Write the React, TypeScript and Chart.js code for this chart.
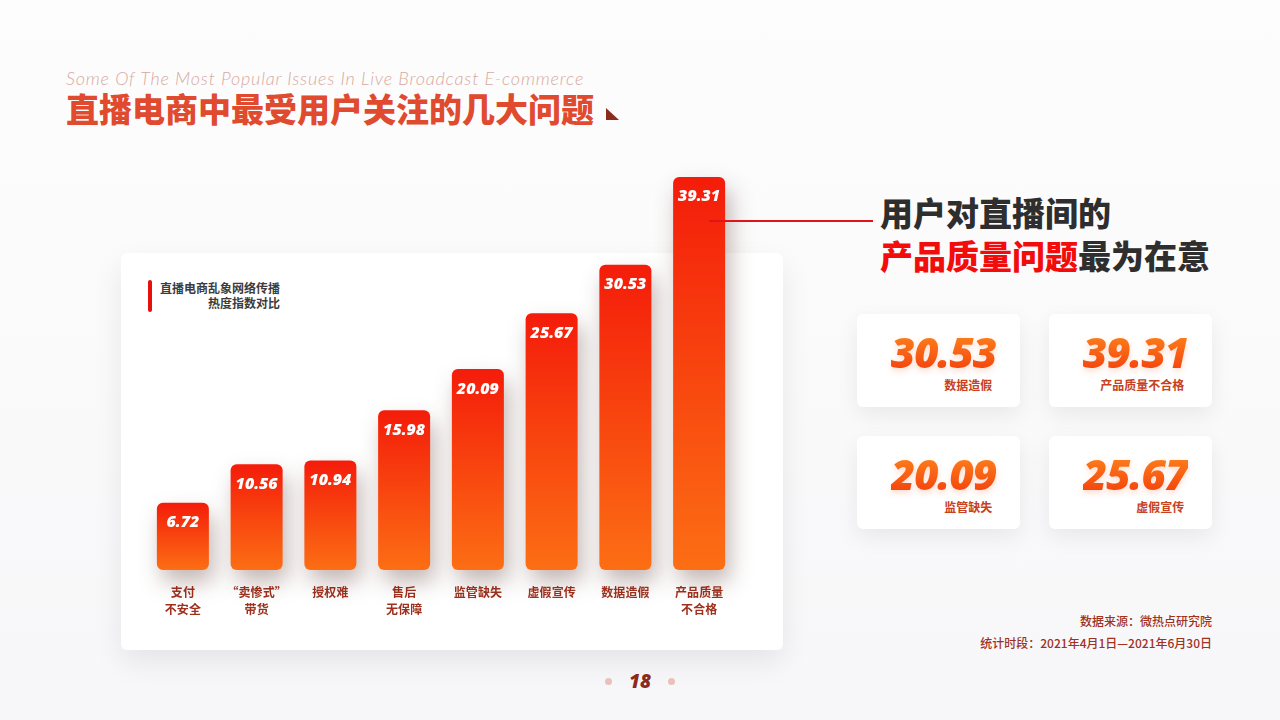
import React, { useEffect, useRef } from "react";
import { Chart, registerables } from "chart.js";

Chart.register(...registerables);

// ---- data ----
const categories: string[][] = [
  ["支付", "不安全"],
  ["“卖惨式”", "带货"],
  ["授权难"],
  ["售后", "无保障"],
  ["监管缺失"],
  ["虚假宣传"],
  ["数据造假"],
  ["产品质量", "不合格"],
];
const heatIndex: number[] = [6.72, 10.56, 10.94, 15.98, 20.09, 25.67, 30.53, 39.31];
const yMin = 0;
const yMax = 40;
const highlightValues: string[] = ["30.53", "39.31", "20.09", "25.67"];
const highlightLabels: string[] = ["数据造假", "产品质量不合格", "监管缺失", "虚假宣传"];
const legendLines: string[] = ["直播电商乱象网络传播", "热度指数对比"];
const sourceLines: string[] = ["数据来源：微热点研究院", "统计时段：2021年4月1日—2021年6月30日"];

const CJK = '"Noto Sans CJK SC", "Noto Sans", sans-serif';
const LATIN = '"Open Sans", "Noto Sans", sans-serif';

const shadowPlugin = {
  id: "barShadow",
  beforeDatasetDraw(chart: any) {
    const c = chart.ctx;
    c.save();
    c.shadowColor = "rgba(70,30,20,0.32)";
    c.shadowBlur = 22;
    c.shadowOffsetX = 5;
    c.shadowOffsetY = 12;
  },
  afterDatasetDraw(chart: any) {
    chart.ctx.restore();
  },
};

const valueLabelPlugin = {
  id: "valueLabels",
  afterDatasetsDraw(chart: any) {
    const c = chart.ctx;
    const meta = chart.getDatasetMeta(0);
    c.save();
    c.fillStyle = "#ffffff";
    c.font = `italic 800 16px ${LATIN}`;
    c.textAlign = "center";
    c.textBaseline = "middle";
    meta.data.forEach((el: any, i: number) => {
      const v = chart.data.datasets[0].data[i] as number;
      c.fillText(v.toFixed(2), el.x, el.y + 20);
    });
    c.restore();
  },
};

function BarChart() {
  const ref = useRef<HTMLCanvasElement | null>(null);
  useEffect(() => {
    if (!ref.current) return;
    const chart = new Chart(ref.current, {
      type: "bar",
      data: {
        labels: categories,
        datasets: [
          {
            data: heatIndex,
            backgroundColor: (ctx: any) => {
              const chart = ctx.chart;
              const { chartArea, scales } = chart;
              if (!chartArea || ctx.type !== "data") return "#f5400e";
              const top = scales.y.getPixelForValue(ctx.raw as number);
              const bottom = scales.y.getPixelForValue(0);
              const g = chart.ctx.createLinearGradient(0, top, 0, bottom);
              g.addColorStop(0, "#f41c0a");
              g.addColorStop(1, "#fc6e14");
              return g;
            },
            borderRadius: 6,
            borderSkipped: false,
            barPercentage: 0.705,
            categoryPercentage: 1,
            clip: false as any,
          },
        ],
      },
      options: {
        animation: false,
        responsive: true,
        maintainAspectRatio: false,
        layout: { padding: { left: 46, right: 64, top: 20, bottom: 8 } },
        plugins: { legend: { display: false }, tooltip: { enabled: false } },
        scales: {
          x: {
            grid: { display: false, drawTicks: false },
            border: { display: false },
            ticks: {
              color: "#9e301d",
              font: { family: CJK, size: 12, weight: "bold", lineHeight: 1.42 },
              padding: 14,
              maxRotation: 0,
              autoSkip: false,
            },
          },
          y: { display: false, min: yMin, max: yMax },
        },
      },
      plugins: [shadowPlugin, valueLabelPlugin],
    });
    return () => chart.destroy();
  }, []);
  return (
    <div style={{ position: "absolute", left: 100, top: 150, width: 700, height: 490 }}>
      <canvas ref={ref} />
    </div>
  );
}

const cardPos = [
  { left: 857, top: 314 },
  { left: 1049, top: 314 },
  { left: 857, top: 436 },
  { left: 1049, top: 436 },
];

export default function App() {
  return (
    <div
      style={{
        position: "fixed",
        left: 0,
        top: 0,
        width: 1280,
        height: 720,
        overflow: "hidden",
        background: "linear-gradient(180deg, #fdfdfd 0%, #f7f7f9 100%)",
        fontFamily: CJK,
      }}
    >
      {/* Titles */}
      <div
        style={{
          position: "absolute",
          left: 66,
          top: 68,
          fontFamily: '"Lato", "Open Sans", sans-serif',
          fontStyle: "italic",
          fontWeight: 300,
          fontSize: 18,
          letterSpacing: 0.8,
          lineHeight: "21px",
          color: "#d8aaa2",
          whiteSpace: "nowrap",
        }}
      >
        Some Of The Most Popular Issues In Live Broadcast E-commerce
      </div>
      <div
        style={{
          position: "absolute",
          left: 66,
          top: 90,
          fontSize: 33,
          fontWeight: 900,
          lineHeight: "36px",
          color: "#e04a2e",
          whiteSpace: "nowrap",
        }}
      >
        直播电商中最受用户关注的几大问题
      </div>
      <div
        style={{
          position: "absolute",
          left: 606,
          top: 108,
          width: 0,
          height: 0,
          borderRight: "13px solid transparent",
          borderBottom: "12px solid #8a2b1c",
        }}
      />

      {/* Chart card */}
      <div
        style={{
          position: "absolute",
          left: 121,
          top: 253,
          width: 662,
          height: 397,
          background: "#ffffff",
          borderRadius: 6,
          boxShadow: "0 12px 30px rgba(0,0,0,0.08)",
        }}
      />
      <div
        style={{
          position: "absolute",
          left: 148,
          top: 280,
          width: 4,
          height: 32,
          borderRadius: 2,
          background: "#e8100c",
        }}
      />
      <div
        style={{
          position: "absolute",
          left: 150,
          top: 280,
          width: 130,
          textAlign: "right",
          fontSize: 12,
          fontWeight: 700,
          lineHeight: "15px",
          color: "#3c3c3c",
        }}
      >
        {legendLines.map((l, i) => (
          <div key={i}>{l}</div>
        ))}
      </div>

      <BarChart />

      {/* connector line */}
      <div
        style={{
          position: "absolute",
          left: 709,
          top: 220,
          width: 164,
          height: 2,
          background: "#e0141a",
        }}
      />

      {/* Right headline */}
      <div
        style={{
          position: "absolute",
          left: 880,
          top: 191,
          fontSize: 33,
          fontWeight: 900,
          lineHeight: "43px",
          color: "#2e2e2e",
          whiteSpace: "nowrap",
        }}
      >
        <div>用户对直播间的</div>
        <div>
          <span style={{ color: "#f20c0c" }}>产品质量问题</span>最为在意
        </div>
      </div>

      {/* Highlight cards */}
      {cardPos.map((p, i) => (
        <div
          key={i}
          style={{
            position: "absolute",
            left: p.left,
            top: p.top,
            width: 163,
            height: 93,
            background: "#ffffff",
            borderRadius: 6,
            boxShadow: "0 8px 22px rgba(0,0,0,0.07)",
            display: "flex",
            justifyContent: "center",
          }}
        >
          <div style={{ display: "inline-block", marginLeft: 10, marginTop: 14 }}>
            <div
              style={{
                fontFamily: LATIN,
                fontStyle: "italic",
                fontWeight: 800,
                fontSize: 42,
                lineHeight: "48px",
                letterSpacing: -1,
                background: "linear-gradient(180deg, #ff8a1c 0%, #f23a0c 100%)",
                WebkitBackgroundClip: "text",
                backgroundClip: "text",
                color: "transparent",
                filter: "drop-shadow(0 3px 3px rgba(240,80,20,0.2))",
              }}
            >
              {highlightValues[i]}
            </div>
            <div
              style={{
                textAlign: "right",
                paddingRight: 4,
                fontSize: 12,
                fontWeight: 700,
                lineHeight: "16px",
                marginTop: 1,
                color: "#c7411f",
              }}
            >
              {highlightLabels[i]}
            </div>
          </div>
        </div>
      ))}

      {/* Source */}
      <div
        style={{
          position: "absolute",
          right: 68,
          top: 610,
          textAlign: "right",
          fontSize: 12,
          fontWeight: 500,
          lineHeight: "22px",
          color: "#a0311d",
          whiteSpace: "nowrap",
        }}
      >
        {sourceLines.map((l, i) => (
          <div key={i}>{l}</div>
        ))}
      </div>

      {/* Page number */}
      <div
        style={{
          position: "absolute",
          left: 605,
          top: 678,
          width: 7,
          height: 7,
          borderRadius: 4,
          background: "#e6c2bb",
        }}
      />
      <div
        style={{
          position: "absolute",
          left: 668,
          top: 678,
          width: 7,
          height: 7,
          borderRadius: 4,
          background: "#e6c2bb",
        }}
      />
      <div
        style={{
          position: "absolute",
          left: 620,
          top: 669,
          width: 40,
          textAlign: "center",
          fontFamily: LATIN,
          fontStyle: "italic",
          fontWeight: 800,
          fontSize: 19,
          lineHeight: "24px",
          color: "#8a2b1c",
        }}
      >
        18
      </div>
    </div>
  );
}
